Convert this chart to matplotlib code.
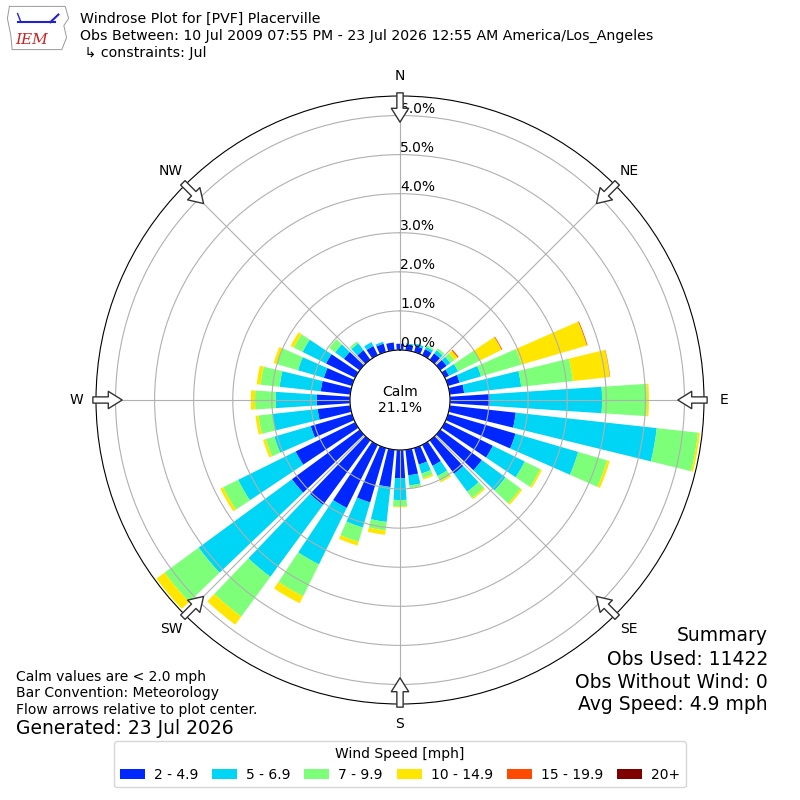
import numpy as np
import matplotlib
matplotlib.use("Agg")
import matplotlib.pyplot as plt

# wind direction bins (deg, meteorological) and percent of obs per speed bin
directions = np.arange(0, 360, 10)
speed_labels = ["2 - 4.9", "5 - 6.9", "7 - 9.9", "10 - 14.9", "15 - 19.9", "20+"]
speed_colors = ["#0027ff", "#00d5f5", "#7dff7a", "#ffe600", "#ff4a00", "#800000"]

pct_2_5 = [0.16, 0.15, 0.16, 0.17, 0.20, 0.20, 0.12, 0.31, 0.37, 1.02, 1.70, 1.80,
           1.37, 1.32, 1.06, 0.60, 0.44, 0.66, 0.72, 0.96, 1.45, 1.80, 2.05, 2.15,
           1.70, 1.10, 0.84, 0.85, 0.76, 0.75, 0.83, 0.50, 0.30, 0.26, 0.22, 0.20]
pct_5_7 = [0.00, 0.03, 0.06, 0.07, 0.10, 0.12, 0.26, 0.57, 1.47, 2.87, 3.63, 1.67,
           0.91, 0.75, 0.57, 0.29, 0.24, 0.26, 0.56, 0.90, 0.67, 1.61, 2.28, 2.96,
           1.64, 0.97, 1.16, 1.05, 1.06, 0.69, 0.67, 0.28, 0.22, 0.11, 0.05, 0.00]
pct_7_10 = [0.00, 0.00, 0.00, 0.04, 0.06, 0.13, 0.62, 1.08, 1.33, 1.15, 1.06, 0.77,
            0.44, 0.48, 0.20, 0.14, 0.12, 0.07, 0.17, 0.22, 0.38, 0.91, 1.26, 1.08,
            0.43, 0.23, 0.36, 0.53, 0.49, 0.56, 0.25, 0.19, 0.06, 0.00, 0.00, 0.00]
pct_10_15 = [0.00, 0.00, 0.00, 0.00, 0.00, 0.10, 0.62, 1.74, 0.95, 0.05, 0.05, 0.07,
             0.05, 0.05, 0.04, 0.04, 0.04, 0.01, 0.02, 0.11, 0.10, 0.20, 0.26, 0.26,
             0.08, 0.07, 0.08, 0.11, 0.10, 0.09, 0.09, 0.00, 0.00, 0.00, 0.00, 0.00]
pct_15_20 = [0.00, 0.00, 0.00, 0.00, 0.00, 0.03, 0.02, 0.02, 0.01, 0.00, 0.00, 0.00,
             0.00, 0.00, 0.00, 0.00, 0.00, 0.00, 0.00, 0.00, 0.00, 0.00, 0.00, 0.00,
             0.00, 0.00, 0.00, 0.00, 0.00, 0.00, 0.00, 0.00, 0.00, 0.00, 0.00, 0.00]
pct_20_up = [0.0] * 36

calm_pct = 21.1
rticks = [0, 1, 2, 3, 4, 5, 6]
compass = ["N", "NE", "E", "SE", "S", "SW", "W", "NW"]

fig = plt.figure(figsize=(8, 8), dpi=100)
ax = fig.add_axes([0.12, 0.12, 0.76, 0.76], projection="polar")
ax.set_theta_zero_location("N")
ax.set_theta_direction(-1)
ax.set_rorigin(-1.2795)
ax.set_ylim(0, 6.5)

theta = np.deg2rad(directions)
width = np.deg2rad(7.5)
bottom = np.zeros(36)
handles = []
for vals, col in zip([pct_2_5, pct_5_7, pct_7_10, pct_10_15, pct_15_20, pct_20_up],
                     speed_colors):
    vals = np.array(vals)
    b = ax.bar(theta, vals, width=width, bottom=bottom, color=col, linewidth=0)
    handles.append(b)
    bottom = bottom + vals

ax.set_thetagrids(np.arange(0, 360, 45), labels=[""] * 8)
ax.set_yticks(rticks)
ax.set_yticklabels([])
ax.grid(True, color="#b0b0b0", lw=0.8)
for v in rticks:
    ax.text(0, v, f"{v:.1f}%", ha="left", va="bottom", fontsize=10)

for ang, lab in zip(np.arange(0, 360, 45), compass):
    a = np.deg2rad(ang)
    ax.text(a, 7.01, lab, ha="center", va="center", fontsize=10, clip_on=False)
    ax.annotate("", xy=(a, 5.83), xytext=(a, 6.58), annotation_clip=False,
                arrowprops=dict(arrowstyle="simple,head_length=1.0,head_width=1.25,tail_width=0.45",
                                fc="white", ec="#333333", lw=1, mutation_scale=10,
                                shrinkA=0, shrinkB=0))

ax.text(0.5, 0.5, f"Calm\n{calm_pct:.1f}%", transform=ax.transAxes,
        ha="center", va="center", fontsize=10)

# header
fig.text(0.1, 0.977, "Windrose Plot for [PVF] Placerville", fontsize=10.15, va="center")
fig.text(0.1, 0.955, "Obs Between: 10 Jul 2009 07:55 PM - 23 Jul 2026 12:55 AM America/Los_Angeles",
         fontsize=10.15, va="center")
fig.text(0.1, 0.934, " \u21b3 constraints: Jul", fontsize=10.15, va="center")

# logo
lax = fig.add_axes([0.005, 0.935, 0.085, 0.06])
lax.axis("off")
lax.set_xlim(0, 1)
lax.set_ylim(0, 1)
lax.plot([0.08, 0.9, 0.95, 0.88, 0.92, 0.85, 0.12, 0.1, 0.05, 0.08],
         [0.95, 0.95, 0.7, 0.55, 0.3, 0.05, 0.05, 0.35, 0.7, 0.95],
         color="#999999", lw=0.7)
lax.plot([0.2, 0.75], [0.62, 0.62], color="#2222cc", lw=1.5)
lax.plot([0.25, 0.2], [0.62, 0.8], color="#2222cc", lw=1)
lax.plot([0.68, 0.8], [0.62, 0.78], color="#2222cc", lw=1.5)
lax.text(0.4, 0.25, "IEM", color="#cc2222", fontsize=11, family="serif",
         style="italic", ha="center", va="center")

# notes
fig.text(0.02, 0.154, "Calm values are < 2.0 mph", fontsize=10, va="center")
fig.text(0.02, 0.134, "Bar Convention: Meteorology", fontsize=10, va="center")
fig.text(0.02, 0.1125, "Flow arrows relative to plot center.", fontsize=10, va="center")
fig.text(0.02, 0.089, "Generated: 23 Jul 2026", fontsize=13.5, va="center")

fig.text(0.96, 0.206, "Summary", fontsize=13.5, ha="right", va="center")
fig.text(0.96, 0.176, "Obs Used: 11422", fontsize=13.5, ha="right", va="center")
fig.text(0.96, 0.1475, "Obs Without Wind: 0", fontsize=13.5, ha="right", va="center")
fig.text(0.96, 0.119, "Avg Speed: 4.9 mph", fontsize=13.5, ha="right", va="center")

fig.legend(handles, speed_labels, loc="lower center", bbox_to_anchor=(0.5, 0.007),
           ncol=6, title="Wind Speed [mph]", fontsize=10, title_fontsize=10,
           handlelength=1.8, handletextpad=0.65, columnspacing=1.0)

fig.savefig("out.png", dpi=100)
